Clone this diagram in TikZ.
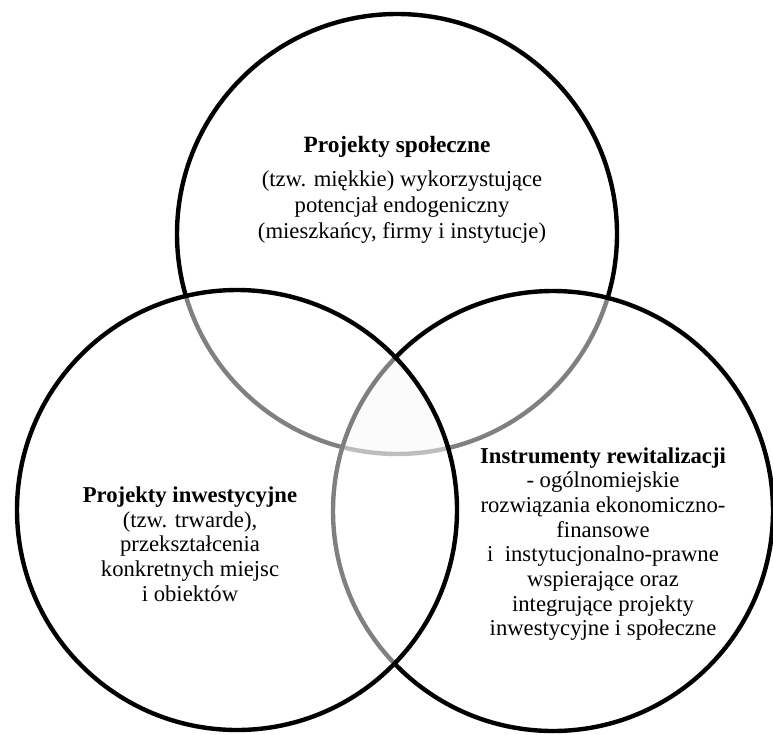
\documentclass[tikz,border=0pt]{standalone}
\usepackage{fontspec}
\setmainfont{Liberation Serif}
\usepackage{tikz}

\tikzset{
  krag/.style={circle, draw=black, line width=3.3pt, fill=white, fill opacity=0.5,
    minimum size=330pt, inner sep=0pt},
  opis/.style={align=center, font=\fontsize{17}{18.5}\selectfont},
}

\begin{document}
\begin{tikzpicture}[x=0.75pt, y=-0.75pt]
			\useasboundingbox (0,0) rectangle (773,734);

			\node[krag] (spoleczne) at (397,234) {};
			\node[krag] (instrumenty) at (553,511) {};
			\node[krag] (inwestycyjne) at (237,510) {};

			% srodek wspolny dla trzech kol
			\begin{scope}
				\clip (spoleczne.center) circle [radius=165pt];
				\clip (instrumenty.center) circle [radius=165pt];
				\fill[black, fill opacity=0.015] (inwestycyjne.center) circle [radius=165pt];
			\end{scope}

			\node[opis, font=\fontsize{17.5}{18.5}\selectfont\bfseries] (tytulS) at (397,147) {Projekty społeczne};
			\node[opis, font=\fontsize{17}{19.5}\selectfont] (tekstS) at (402,207)
				{(tzw. miękkie) wykorzystujące\\potencjał endogeniczny\\(mieszkańcy, firmy i instytucje)};

			\node[opis] (tekstI) at (190,544)
				{\textbf{Projekty inwestycyjne}\\(tzw. trwarde),\\przekształcenia\\konkretnych miejsc\\i obiektów};

			\node[opis] (tekstR) at (603,544)
				{\textbf{Instrumenty rewitalizacji}\\- ogólnomiejskie\\rozwiązania ekonomiczno-\\finansowe\\i~~instytucjonalno-prawne\\wspierające oraz\\integrujące projekty\\inwestycyjne i społeczne};
		\end{tikzpicture}
\end{document}
